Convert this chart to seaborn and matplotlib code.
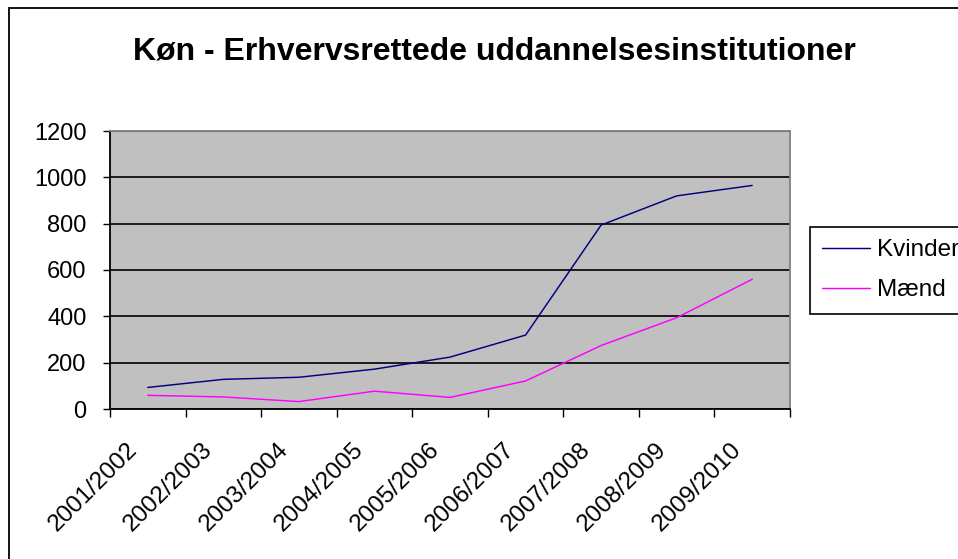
import matplotlib
matplotlib.use("Agg")
import matplotlib.pyplot as plt
import matplotlib.patches as mpatches
import seaborn as sns
import pandas as pd
import numpy as np

categories = ["2001/2002", "2002/2003", "2003/2004", "2004/2005", "2005/2006",
              "2006/2007", "2007/2008", "2008/2009", "2009/2010"]
kvinder = [93, 128, 137, 172, 224, 319, 794, 920, 965]
maend = [59, 52, 32, 77, 50, 121, 274, 394, 560]
series_names = ["Kvinder", "Mænd"]
yticks = [0, 200, 400, 600, 800, 1000, 1200]
title = "Køn - Erhvervsrettede uddannelsesinstitutioner"

sns.set_style("white")
plt.rcParams['font.family'] = ['Liberation Sans', 'DejaVu Sans']
plt.rcParams['text.color'] = 'black'
plt.rcParams['xtick.color'] = 'black'
plt.rcParams['ytick.color'] = 'black'
plt.rcParams['xtick.labelcolor'] = 'black'
plt.rcParams['ytick.labelcolor'] = 'black'

W, H = 958, 559
fig = plt.figure(figsize=(W / 100, H / 100), dpi=100)
ax = fig.add_axes([110 / W, 1 - 409 / H, 680 / W, 278 / H])

df = pd.DataFrame({
    "pos": list(range(len(categories))) * 2,
    "value": kvinder + maend,
    "serie": [series_names[0]] * len(categories) + [series_names[1]] * len(categories),
})

sns.lineplot(data=df, x="pos", y="value", hue="serie",
             palette={series_names[0]: "#000080", series_names[1]: "#FF00FF"},
             linewidth=1.05, ax=ax, legend=False, zorder=3)

ax.set_facecolor("#C0C0C0")
ax.set_xlim(-0.5, len(categories) - 0.5)
ax.set_ylim(0, 1200)
ax.set_yticks(yticks)
ax.set_yticklabels([str(t) for t in yticks], fontsize=17)
ax.yaxis.grid(True, color="black", linewidth=1.2)
ax.set_axisbelow(True)
ax.set_xlabel("")
ax.set_ylabel("")

# major ticks at category boundaries, labels near centers
ax.set_xticks(np.arange(-0.5, len(categories), 1.0))
ax.set_xticklabels([])
ax.set_xticks(np.arange(len(categories)) - 0.29, minor=True)
ax.set_xticklabels(categories, minor=True, rotation=45, ha="right",
                   va="top", rotation_mode="anchor", fontsize=17.5)
ax.tick_params(axis="x", which="major", direction="out", length=6, width=1, color="black", bottom=True)
ax.tick_params(axis="x", which="minor", length=0, pad=21)
ax.tick_params(axis="y", direction="out", length=5, width=1, color="black", left=True, pad=12)

for s in ["left", "bottom"]:
    ax.spines[s].set_color("black")
    ax.spines[s].set_linewidth(1.3)
for s in ["top", "right"]:
    ax.spines[s].set_color("#808080")
    ax.spines[s].set_linewidth(1.3)

# legend
handles = [plt.Line2D([], [], color="#000080", linewidth=1.05),
           plt.Line2D([], [], color="#FF00FF", linewidth=1.05)]
leg = fig.legend(handles, series_names, loc="upper left",
                 bbox_to_anchor=(810 / W, 1 - 227 / H), fontsize=17.5,
                 frameon=True, fancybox=False, framealpha=1, edgecolor="black",
                 handlelength=1.95, handletextpad=0.3, labelspacing=0.75,
                 borderpad=0.5, borderaxespad=0)
leg.get_frame().set_linewidth(1.2)

fig.text(494 / W, 1 - 60 / H, title, ha="center", va="baseline",
         fontsize=23, fontweight="bold", color="black")

# outer chart border
rect = mpatches.Rectangle((9 / W, -0.1), 1.2, 1.1 - 8 / H,
                          transform=fig.transFigure, fill=False,
                          edgecolor="black", linewidth=1.3)
fig.patches.append(rect)

fig.savefig("out.png", dpi=100)
